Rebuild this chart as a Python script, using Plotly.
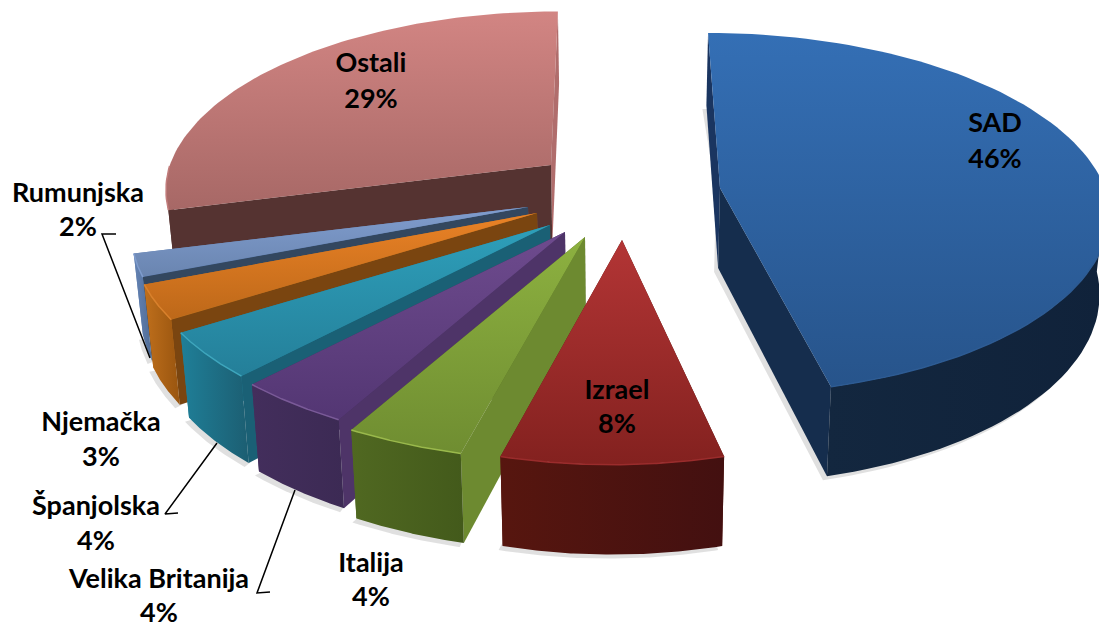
import numpy as np
import plotly.graph_objects as go

# Shares per country, clockwise from twelve o'clock
countries = ["SAD", "Izrael", "Italija", "Velika Britanija", "Španjolska", "Njemačka", "Rumunjska", "Ostali"]
shares = [46, 8, 4, 4, 4, 3, 2, 29]

# Explosion of every wedge: apex on the canvas, radial scale, width scale and lean
apex_x = [720, 622, 585, 565, 550, 537, 528, 551]
apex_y = [188, 240, 237, 232, 225, 213, 207, 165]
radius_scale = [1.0, 1.09, 1.09, 1.06, 1.05, 1.04, 1.02, 0.99]
width_scale = [1.0, 0.925, 1.0, 1.0, 1.0, 1.0, 1.0, 1.0]
lean_near = [0.0, -0.045, -0.015, -0.01, 0.0, 0.0, 0.0, 0.0]
lean_far = [0.077, 0.0, 0.0, 0.0, 0.0, 0.0, 0.0, -0.045]

# Colours: top surface (far, near), rim (left, right), radial walls, rim highlight
top_far = ["#346fb5", "#b33535", "#8db140", "#6e4b8e", "#2e9fba", "#ea8226", "#809dce", "#d28583"]
top_near = ["#27548b", "#83211f", "#6f8d31", "#533673", "#247f99", "#bd6819", "#6a85b0", "#a76866"]
rim_left = ["#13273f", "#57160f", "#506821", "#432e5c", "#1f7f98", "#bf6f1c", "#6584b5", "#553331"]
rim_right = ["#10223a", "#431010", "#435a1b", "#3c2a54", "#1c5e72", "#99550f", "#4f6c96", "#553331"]
wall_start = ["#1a3560", "#57160f", "#6d8a30", "#4e3468", "#1a6075", "#7a4510", "#33475f", "#553331"]
wall_end = ["#152d4d", "#57160f", "#506821", "#432e5c", "#1f7f98", "#bf6f1c", "#6584b5", "#b06d6c"]
highlight = ["#2d5b93", "#9a2c2c", "#9ab94c", "#7a5a98", "#3ea6bd", "#d9812c", "#7f9ccd", "#c27d7c"]

# Back-to-front painting order
paint_order = [7, 0, 6, 5, 4, 3, 2, 1]

# Label placement
label_x = [995, 617, 371, 159, 96, 101, 78, 371]
label_y = [125, 392, 565, 581, 508, 424, 195, 65]
percent_y = [161, 426, 599, 615, 543, 459, 229, 101]

# Leader lines for the labels that sit far from their wedge
leader_x = [[116, 102, 150], [178, 165, 217], [270, 257, 295]]
leader_y = [[234, 234, 358], [513, 514, 443], [592, 593, 490]]

# Perspective model of the disc
RADIUS_X, RADIUS_Y, TILT = 385.0, 177.0, 0.1415
DEPTH, DEPTH_TILT = 80.0, 0.11
VANISH_X, VANISH_RATE = 620.0, 0.019


def project(i, theta):
    """Screen position of the rim of wedge i at angle theta (degrees, clockwise from top)."""
    t = np.radians(np.asarray(theta, dtype=float))
    toward = -np.cos(t)
    dy = radius_scale[i] * RADIUS_Y * toward / (1 - TILT * toward)
    lean = np.where(dy < 0, lean_far[i], lean_near[i])
    dx = width_scale[i] * radius_scale[i] * RADIUS_X * np.sin(t) / (1 - TILT * toward) + lean * dy
    return apex_x[i] + dx, apex_y[i] + dy, toward


def drop(x, y, toward):
    """Extrude a top-surface point down to the bottom of the wedge."""
    x = np.asarray(x, dtype=float)
    y = np.asarray(y, dtype=float)
    return x + (VANISH_X - x) * VANISH_RATE, y + DEPTH / (1 - DEPTH_TILT * np.asarray(toward))


def polygon(fig, xs, ys, fill=None, gradient=None):
    trace = dict(x=list(xs), y=list(ys), mode="lines", line=dict(width=0), fill="toself",
                 hoverinfo="skip", showlegend=False)
    if gradient is not None:
        kind, first, second = gradient
        trace["fillgradient"] = dict(type=kind, colorscale=[[0, first], [1, second]])
    else:
        trace["fillcolor"] = fill
    fig.add_trace(go.Scatter(**trace))


fig = go.Figure()
edges = np.cumsum([0] + shares) * 3.6

for i in paint_order:
    a0, a1 = edges[i], edges[i + 1]
    angles = np.linspace(a0, a1, 90)
    ax, ay = float(apex_x[i]), float(apex_y[i])
    rx, ry, toward = project(i, angles)
    bx, by = drop(rx, ry, toward)
    dax, day = drop(ax, ay, 0.0)

    # Soft contact shadow of the whole wedge
    sx = [ax - 4, *(bx - 4), dax - 4]
    sy = [ay + 4, *(by + 4), day + 4]
    polygon(fig, sx, sy, fill="rgba(60,60,60,0.16)")

    # Radial walls, the one facing the viewer last
    start_wall = ([ax, rx[0], bx[0], dax], [ay, ry[0], by[0], day], wall_start[i])
    end_wall = ([ax, rx[-1], bx[-1], dax], [ay, ry[-1], by[-1], day], wall_end[i])
    walls = [start_wall, end_wall] if (a0 + a1) / 2 < 180 else [end_wall, start_wall]
    for wx, wy, colour in walls:
        polygon(fig, wx, wy, fill=colour)

    # Curved rim, front half only
    front = toward >= 0
    if front.sum() > 1:
        polygon(fig, [*rx[front], *bx[front][::-1]], [*ry[front], *by[front][::-1]],
                gradient=("horizontal", rim_left[i], rim_right[i]))

    # Top surface; the gradient runs with the reversed y axis
    polygon(fig, [ax, *rx], [ay, *ry], gradient=("vertical", top_near[i], top_far[i]))

    # Bevel along the front edge of the top
    if front.sum() > 1:
        fig.add_trace(go.Scatter(x=rx[front], y=ry[front], mode="lines",
                                 line=dict(color=highlight[i], width=1.5),
                                 hoverinfo="skip", showlegend=False))

for lx, ly in zip(leader_x, leader_y):
    fig.add_trace(go.Scatter(x=lx, y=ly, mode="lines", line=dict(color="black", width=1.5),
                             hoverinfo="skip", showlegend=False))

label_font = dict(family="Lato, Carlito, sans-serif", size=27, color="black", weight="bold")
fig.add_trace(go.Scatter(x=label_x, y=label_y, mode="text", text=countries,
                         textfont=label_font, textposition="middle center",
                         hoverinfo="skip", showlegend=False))
fig.add_trace(go.Scatter(x=label_x, y=percent_y, mode="text", text=[f"{v}%" for v in shares],
                         textfont=label_font, textposition="middle center",
                         hoverinfo="skip", showlegend=False))

fig.update_layout(
    width=1099, height=631, autosize=False,
    margin=dict(l=0, r=0, t=0, b=0),
    paper_bgcolor="white", plot_bgcolor="white", showlegend=False,
    xaxis=dict(range=[0, 1099], visible=False, fixedrange=True),
    yaxis=dict(range=[631, 0], visible=False, fixedrange=True),
)
fig.write_html("out.html")
